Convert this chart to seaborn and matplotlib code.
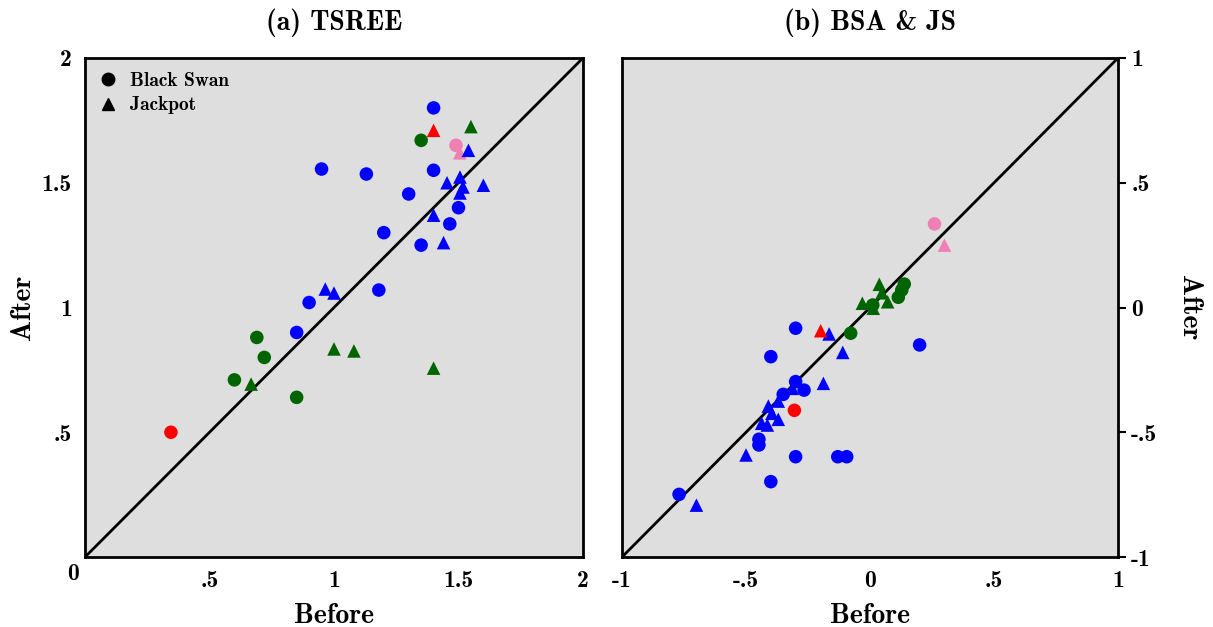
import matplotlib
matplotlib.use("Agg")
import matplotlib.pyplot as plt
from matplotlib.lines import Line2D
import seaborn as sns
import pandas as pd

# ---- data: (a) TSREE ----
a_circle_x = [1.40, 1.35, 1.49, 0.95, 1.13, 1.40, 1.30, 1.50, 1.465, 1.35, 1.20, 1.18, 0.90, 0.85,
              0.69, 0.72, 0.60, 0.85, 0.345]
a_circle_y = [1.80, 1.67, 1.65, 1.555, 1.535, 1.55, 1.455, 1.40, 1.335, 1.25, 1.30, 1.07, 1.02, 0.90,
              0.88, 0.80, 0.71, 0.64, 0.50]
a_circle_c = ["blue", "green", "pink", "blue", "blue", "blue", "blue", "blue", "blue", "blue", "blue",
              "blue", "blue", "blue", "green", "green", "green", "green", "red"]

a_tri_x = [1.40, 1.55, 1.505, 1.54, 1.454, 1.506, 1.518, 1.506, 1.60, 1.40, 1.44, 0.965, 1.0,
           1.0, 1.08, 1.40, 0.667]
a_tri_y = [1.71, 1.725, 1.62, 1.63, 1.50, 1.523, 1.483, 1.459, 1.49, 1.37, 1.26, 1.074, 1.058,
           0.834, 0.826, 0.757, 0.693]
a_tri_c = ["red", "green", "pink", "blue", "blue", "blue", "blue", "blue", "blue", "blue", "blue",
           "blue", "blue", "green", "green", "green", "green"]

# ---- data: (b) BSA & JS ----
b_circle_x = [-0.30, -0.40, -0.30, -0.35, -0.266, -0.448, -0.448, -0.30, -0.13, -0.094, -0.40, -0.77,
              0.20, -0.305, -0.078, 0.138, 0.128, 0.114, 0.011, 0.26]
b_circle_y = [-0.083, -0.197, -0.297, -0.348, -0.331, -0.528, -0.551, -0.598, -0.598, -0.598, -0.698,
              -0.749, -0.15, -0.412, -0.103, 0.094, 0.07, 0.041, 0.01, 0.335]
b_circle_c = ["blue"] * 13 + ["red", "green", "green", "green", "green", "green", "pink"]

b_tri_x = [-0.165, -0.11, -0.188, -0.313, -0.37, -0.41, -0.396, -0.37, -0.437, -0.414, -0.50, -0.70,
           -0.199, 0.0375, 0.048, -0.031, 0.071, 0.013, 0.30]
b_tri_y = [-0.106, -0.18, -0.304, -0.324, -0.375, -0.395, -0.424, -0.448, -0.464, -0.471, -0.591,
           -0.792, -0.093, 0.093, 0.059, 0.017, 0.023, -0.003, 0.25]
b_tri_c = ["blue"] * 12 + ["red", "green", "green", "green", "green", "green", "pink"]

a_ticks = [0.5, 1, 1.5, 2]
a_ticklabels = [".5", "1", "1.5", "2"]
b_ticks = [-1, -0.5, 0, 0.5, 1]
b_ticklabels = ["-1", "-.5", "0", ".5", "1"]

palette = {"blue": "#0000ff", "green": "#006400", "red": "#ff0000", "pink": "#ee80b2"}
markers = {"Black Swan": "o", "Jackpot": "^"}


def make_df(cx, cy, cc, tx, ty, tc):
    d1 = pd.DataFrame({"Before": cx, "After": cy, "group": cc, "kind": "Black Swan"})
    d2 = pd.DataFrame({"Before": tx, "After": ty, "group": tc, "kind": "Jackpot"})
    return pd.concat([d1, d2], ignore_index=True)


df_a = make_df(a_circle_x, a_circle_y, a_circle_c, a_tri_x, a_tri_y, a_tri_c)
df_b = make_df(b_circle_x, b_circle_y, b_circle_c, b_tri_x, b_tri_y, b_tri_c)

sns.set_style("white")
plt.rcParams["font.family"] = ["cmb10", "DejaVu Serif"]
plt.rcParams["axes.unicode_minus"] = False
plt.rcParams["text.color"] = "black"
plt.rcParams["axes.labelcolor"] = "black"
plt.rcParams["xtick.color"] = "black"
plt.rcParams["ytick.color"] = "black"

LBL = 20
TCK = 17

fig = plt.figure(figsize=(12.13, 6.27), dpi=100)
ax1 = fig.add_axes([0.0701, 0.1116, 0.4105, 0.7959])
ax2 = fig.add_axes([0.5128, 0.1116, 0.4089, 0.7959])

for ax, df, lim in [(ax1, df_a, (0, 2)), (ax2, df_b, (-1, 1))]:
    ax.set_facecolor("#dedede")
    ax.plot(lim, lim, color="black", lw=2, zorder=1)
    sns.scatterplot(data=df, x="Before", y="After", hue="group", style="kind",
                    palette=palette, markers=markers, s=95, linewidth=0,
                    legend=False, ax=ax, zorder=3)
    ax.set_xlim(lim)
    ax.set_ylim(lim)
    for sp in ax.spines.values():
        sp.set_linewidth(2)
        sp.set_color("black")
    ax.tick_params(direction="out", length=6, width=1.5, labelsize=TCK, colors="black")
    ax.set_xlabel("Before", fontsize=LBL, labelpad=8, color="black")

# left panel
ax1.set_xticks(a_ticks)
ax1.set_xticklabels(a_ticklabels)
ax1.set_yticks(a_ticks)
ax1.set_yticklabels(a_ticklabels)
ax1.text(-0.012, -0.012, "0", transform=ax1.transAxes, ha="right", va="top",
         fontsize=TCK, color="black")
ax1.set_ylabel("After", fontsize=LBL, labelpad=4, color="black")
ax1.set_title("(a) TSREE", fontsize=LBL, pad=20, color="black")

# right panel
ax2.set_xticks(b_ticks)
ax2.set_xticklabels(b_ticklabels)
ax2.set_yticks(b_ticks)
ax2.set_yticklabels(b_ticklabels)
ax2.yaxis.tick_right()
ax2.yaxis.set_label_position("right")
ax2.set_ylabel("After", fontsize=LBL, rotation=270, labelpad=32, color="black")
ax2.set_title("(b) BSA & JS", fontsize=LBL, pad=20, color="black")

handles = [Line2D([], [], marker="o", color="black", ls="", markersize=9),
           Line2D([], [], marker="^", color="black", ls="", markersize=9)]
ax1.legend(handles, ["Black Swan", "Jackpot"], loc="upper left", frameon=False,
           fontsize=14, handlelength=1.0, handletextpad=0.6, borderaxespad=0.3,
           labelspacing=0.35, labelcolor="black")

fig.savefig("out.png", dpi=100)
